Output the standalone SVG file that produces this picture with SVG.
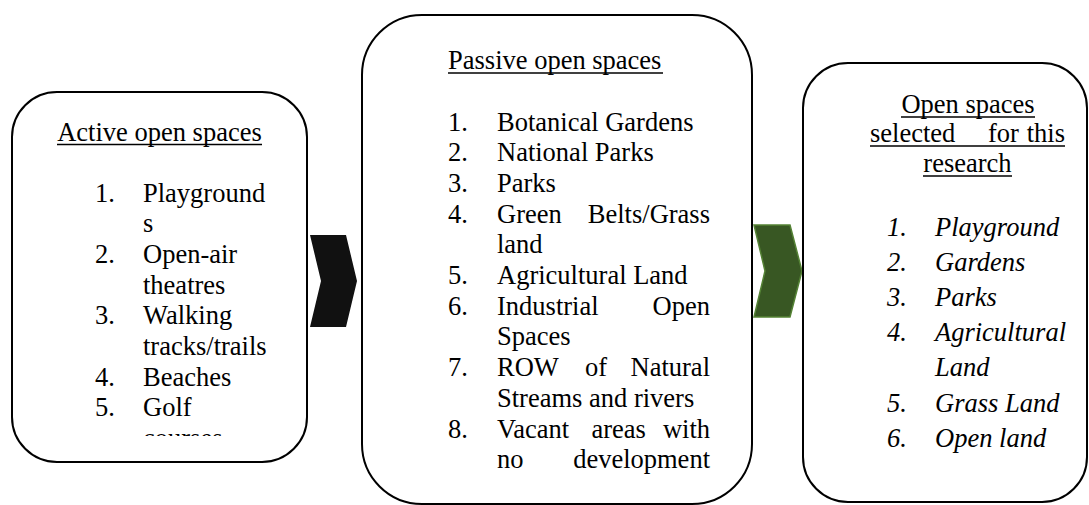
<svg xmlns="http://www.w3.org/2000/svg" width="1089" height="505" viewBox="0 0 1089 505">
<style>
.box{fill:#fff;stroke:#000;stroke-width:2}
.t{font-family:"Liberation Serif","Times New Roman",serif;font-size:26.5px;fill:#000}
.i{font-style:italic}
.u{stroke:#000;stroke-width:1.3}
.mid{text-anchor:middle}
.end{text-anchor:end}
</style>
<defs>
<clipPath id="c1"><rect x="12" y="92" width="295" height="344"/></clipPath>
</defs>
<rect width="1089" height="505" fill="#fff"/>
<g id="connectors">
<polygon points="310,235 346,235 357,281 346,327 310,327 321,281" fill="#111"/>
<polygon points="754,225 790,225 802,271 790,317 754,317 765,271" fill="#385723" stroke="#548235" stroke-width="1.5"/>
</g>
<g id="active">
<rect class="box" x="12" y="92" width="295" height="370" rx="45" ry="45"/>
<text class="t mid" x="159.5" y="141">Active open spaces</text>
<line class="u" x1="57" y1="144.5" x2="262" y2="144.5"/>
<g clip-path="url(#c1)">
<text class="t" x="95" y="201.5">1.</text><text class="t" x="143" y="201.5">Playground</text>
<text class="t" x="143" y="232.2">s</text>
<text class="t" x="95" y="262.9">2.</text><text class="t" x="143" y="262.9">Open-air</text>
<text class="t" x="143" y="293.6">theatres</text>
<text class="t" x="95" y="324.3">3.</text><text class="t" x="143" y="324.3">Walking</text>
<text class="t" x="143" y="355">tracks/trails</text>
<text class="t" x="95" y="385.7">4.</text><text class="t" x="143" y="385.7">Beaches</text>
<text class="t" x="95" y="416.4">5.</text><text class="t" x="143" y="416.4">Golf</text>
<text class="t" x="143" y="447.1">courses</text>
</g>
</g>
<g id="passive">
<rect class="box" x="362" y="15" width="390" height="489" rx="60" ry="60"/>
<text class="t" x="448" y="69">Passive open spaces</text>
<line class="u" x1="448" y1="73" x2="663" y2="73"/>
<text class="t" x="448" y="130.5">1.</text><text class="t" x="497" y="130.5">Botanical Gardens</text>
<text class="t" x="448" y="161.2">2.</text><text class="t" x="497" y="161.2">National Parks</text>
<text class="t" x="448" y="191.9">3.</text><text class="t" x="497" y="191.9">Parks</text>
<text class="t" x="448" y="222.6">4.</text><text class="t" x="497" y="222.6">Green</text><text class="t end" x="710" y="222.6">Belts/Grass</text>
<text class="t" x="497" y="253.3">land</text>
<text class="t" x="448" y="284">5.</text><text class="t" x="497" y="284">Agricultural Land</text>
<text class="t" x="448" y="314.7">6.</text><text class="t" x="497" y="314.7">Industrial</text><text class="t end" x="710" y="314.7">Open</text>
<text class="t" x="497" y="345.4">Spaces</text>
<text class="t" x="448" y="376.1">7.</text><text class="t" x="497" y="376.1">ROW</text><text class="t" x="585" y="376.1">of</text><text class="t end" x="710" y="376.1">Natural</text>
<text class="t" x="497" y="406.8">Streams and rivers</text>
<text class="t" x="448" y="437.5">8.</text><text class="t" x="497" y="437.5">Vacant</text><text class="t" x="591.5" y="437.5">areas</text><text class="t end" x="710" y="437.5">with</text>
<text class="t" x="497" y="468.2">no</text><text class="t end" x="710" y="468.2">development</text>
</g>
<g id="selected">
<rect class="box" x="803" y="63" width="284" height="439" rx="45" ry="45"/>
<text class="t mid" x="968" y="113">Open spaces</text>
<line class="u" x1="901" y1="117" x2="1035" y2="117"/>
<text class="t" x="870" y="142">selected</text><text class="t" x="988" y="142">for</text><text class="t end" x="1065" y="142">this</text>
<line class="u" x1="870" y1="146" x2="1065" y2="146"/>
<text class="t mid" x="967.5" y="172">research</text>
<line class="u" x1="923" y1="176" x2="1012" y2="176"/>
<text class="t i" x="887" y="235.5">1.</text><text class="t i" x="935" y="235.5">Playground</text>
<text class="t i" x="887" y="270.7">2.</text><text class="t i" x="935" y="270.7">Gardens</text>
<text class="t i" x="887" y="305.9">3.</text><text class="t i" x="935" y="305.9">Parks</text>
<text class="t i" x="887" y="341.1">4.</text><text class="t i" x="935" y="341.1">Agricultural</text>
<text class="t i" x="935" y="376.3">Land</text>
<text class="t i" x="887" y="411.5">5.</text><text class="t i" x="935" y="411.5">Grass Land</text>
<text class="t i" x="887" y="446.7">6.</text><text class="t i" x="935" y="446.7">Open land</text>
</g>
</svg>
